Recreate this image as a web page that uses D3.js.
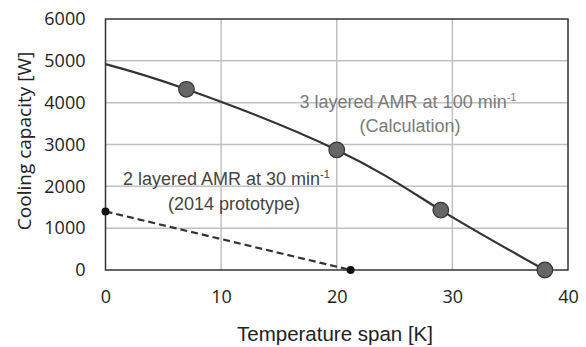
<!DOCTYPE html>
<html>
<head>
<meta charset="utf-8">
<script src="https://cdn.jsdelivr.net/npm/d3@7"></script>
<style>
  body { margin: 0; background: #fff; }
  text { font-family: "Liberation Sans", Arial, sans-serif; }
</style>
</head>
<body>
<svg id="chart"></svg>
<script>
// calculation curve (3 layered AMR at 100 min-1)
const calcSpan = [0, 7, 20, 29, 38];
const calcCapacity = [4920, 4320, 2870, 1430, 0];
const calcMarked = [false, true, true, true, true];

// 2014 prototype (2 layered AMR at 30 min-1)
const protoSpan = [0, 21.2];
const protoCapacity = [1400, 0];

const xTicks = [0, 10, 20, 30, 40];
const yTicks = [0, 1000, 2000, 3000, 4000, 5000, 6000];

const width = 586, height = 347;
const margin = { top: 19, right: 18, bottom: 77, left: 105.5 };

const svg = d3.select("#chart").attr("width", width).attr("height", height);

const x = d3.scaleLinear().domain([0, 40]).range([margin.left, width - margin.right]);
const y = d3.scaleLinear().domain([0, 6000]).range([height - margin.bottom, margin.top]);

// grid
svg.append("g")
  .selectAll("line")
  .data(xTicks.slice(1, -1))
  .enter()
  .append("line")
  .attr("x1", (d) => x(d)).attr("x2", (d) => x(d))
  .attr("y1", y(0)).attr("y2", y(6000))
  .attr("stroke", "#c0c0c0").attr("stroke-width", 1.5);

svg.append("g")
  .selectAll("line")
  .data(yTicks.slice(1, -1))
  .enter()
  .append("line")
  .attr("x1", x(0)).attr("x2", x(40))
  .attr("y1", (d) => y(d)).attr("y2", (d) => y(d))
  .attr("stroke", "#c0c0c0").attr("stroke-width", 1.5);

// frame
svg.append("rect")
  .attr("x", x(0)).attr("y", y(6000))
  .attr("width", x(40) - x(0)).attr("height", y(0) - y(6000))
  .attr("fill", "none").attr("stroke", "#333").attr("stroke-width", 1.5);

// axes (labels only)
const xAxis = svg.append("g")
  .attr("transform", `translate(0, ${y(0)})`)
  .call(d3.axisBottom(x).tickValues(xTicks).tickSize(0).tickPadding(20));
const yAxis = svg.append("g")
  .attr("transform", `translate(${x(0)}, 0)`)
  .call(d3.axisLeft(y).tickValues(yTicks).tickSize(0).tickPadding(20).tickFormat(d3.format("d")));
[xAxis, yAxis].forEach((g) => {
  g.select(".domain").remove();
  g.selectAll("text").attr("font-size", 18).attr("fill", "#222")
    .style("font-family", "'Open Sans', 'Liberation Sans', sans-serif");
});

// calculation curve
const calcData = calcSpan.map((s, i) => ({ s, c: calcCapacity[i], m: calcMarked[i] }));
const line = d3.line().x((d) => x(d.s)).y((d) => y(d.c)).curve(d3.curveNatural);

svg.append("path")
  .datum(calcData)
  .attr("d", line)
  .attr("fill", "none")
  .attr("stroke", "#333")
  .attr("stroke-width", 2.2);

svg.append("g")
  .selectAll("circle")
  .data(calcData.filter((d) => d.m))
  .enter()
  .append("circle")
  .attr("cx", (d) => x(d.s))
  .attr("cy", (d) => y(d.c))
  .attr("r", 7.8)
  .attr("fill", "#666")
  .attr("stroke", "#333")
  .attr("stroke-width", 1.2);

// prototype line
const protoData = protoSpan.map((s, i) => ({ s, c: protoCapacity[i] }));
svg.append("path")
  .datum(protoData)
  .attr("d", d3.line().x((d) => x(d.s)).y((d) => y(d.c)))
  .attr("fill", "none")
  .attr("stroke", "#333")
  .attr("stroke-width", 2.2)
  .attr("stroke-dasharray", "7,4");

svg.append("g")
  .selectAll("circle")
  .data(protoData)
  .enter()
  .append("circle")
  .attr("cx", (d) => x(d.s))
  .attr("cy", (d) => y(d.c))
  .attr("r", 4)
  .attr("fill", "#111");

// annotations
const note1 = svg.append("text")
  .attr("x", 408).attr("y", 108)
  .attr("text-anchor", "middle")
  .attr("font-size", 18)
  .attr("fill", "#7a7a7a");
note1.append("tspan").text("3 layered AMR at 100 min");
note1.append("tspan").attr("dy", -7).attr("font-size", 11).text("-1");
svg.append("text")
  .attr("x", 410).attr("y", 132)
  .attr("text-anchor", "middle")
  .attr("font-size", 18)
  .attr("fill", "#7a7a7a")
  .text("(Calculation)");

const note2 = svg.append("text")
  .attr("x", 123).attr("y", 185)
  .attr("font-size", 18)
  .attr("fill", "#444");
note2.append("tspan").text("2 layered AMR at 30 min");
note2.append("tspan").attr("dy", -7).attr("font-size", 11).text("-1");
svg.append("text")
  .attr("x", 168).attr("y", 210)
  .attr("font-size", 18)
  .attr("fill", "#444")
  .text("(2014 prototype)");

// axis titles
svg.append("text")
  .attr("x", 335).attr("y", 341)
  .attr("text-anchor", "middle")
  .attr("font-size", 20.5)
  .attr("fill", "#222")
  .text("Temperature span [K]");

svg.append("text")
  .attr("transform", "translate(31, 141) rotate(-90)")
  .attr("text-anchor", "middle")
  .attr("font-size", 19)
  .attr("fill", "#222")
  .style("font-family", "'Open Sans', 'Liberation Sans', sans-serif")
  .text("Cooling capacity [W]");
</script>
</body>
</html>
